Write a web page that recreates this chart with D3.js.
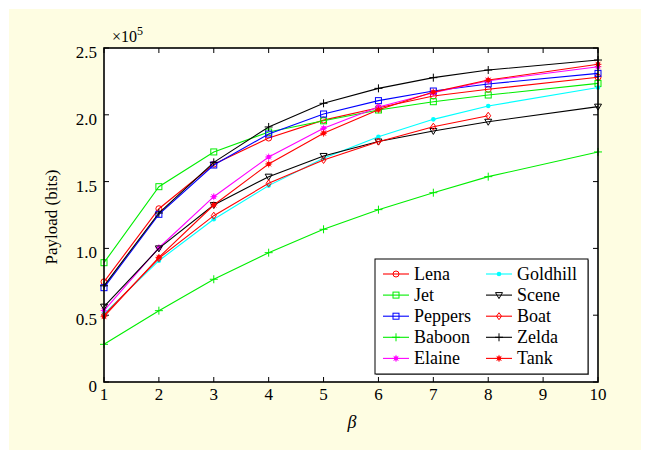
<!DOCTYPE html>
<html>
<head>
<meta charset="utf-8">
<script src="https://cdn.jsdelivr.net/npm/d3@7"></script>
<style>
  body { margin: 0; background: #fff; }
  svg { display: block; }
</style>
</head>
<body>
<svg id="chart" width="645" height="450"></svg>
<script>
// beta values (no measurement at 9)
const betas = [1, 2, 3, 4, 5, 6, 7, 8, 10];

// payload in units of 10^5 bits
const lena     = [0.75, 1.297, 1.63, 1.826, 1.96, 2.053, 2.141, 2.191, 2.281];
const jet      = [0.893, 1.462, 1.722, 1.871, 1.955, 2.036, 2.098, 2.148, 2.235];
const peppers  = [0.706, 1.255, 1.624, 1.856, 2.006, 2.106, 2.178, 2.231, 2.31];
const baboon   = [0.282, 0.534, 0.769, 0.968, 1.143, 1.29, 1.417, 1.537, 1.722];
const elaine   = [0.535, 1.005, 1.387, 1.684, 1.899, 2.058, 2.165, 2.255, 2.36];
const goldhill = [0.51, 0.908, 1.218, 1.47, 1.675, 1.836, 1.966, 2.066, 2.204];
const scene    = [0.564, 1.0, 1.325, 1.537, 1.692, 1.8, 1.879, 1.948, 2.061];
const boat     = [0.50, 0.926, 1.245, 1.487, 1.662, 1.799, 1.911, 1.993];
const zelda    = [0.72, 1.265, 1.644, 1.909, 2.086, 2.198, 2.278, 2.335, 2.41];
const tank     = [0.489, 0.933, 1.325, 1.632, 1.862, 2.038, 2.17, 2.26, 2.378];

const xTicks = [1, 2, 3, 4, 5, 6, 7, 8, 9, 10];
const yTicks = [0, 0.5, 1.0, 1.5, 2.0, 2.5];

const series = [
  { name: "Lena",     values: lena,     color: "#ff0000", marker: "circle" },
  { name: "Jet",      values: jet,      color: "#00ee00", marker: "square" },
  { name: "Peppers",  values: peppers,  color: "#0000ff", marker: "square" },
  { name: "Baboon",   values: baboon,   color: "#00ee00", marker: "plus" },
  { name: "Elaine",   values: elaine,   color: "#ff00ff", marker: "star" },
  { name: "Goldhill", values: goldhill, color: "#00ffff", marker: "dot" },
  { name: "Scene",    values: scene,    color: "#000000", marker: "triangle" },
  { name: "Boat",     values: boat,     color: "#ff0000", marker: "diamond" },
  { name: "Zelda",    values: zelda,    color: "#000000", marker: "plus" },
  { name: "Tank",     values: tank,     color: "#ff0000", marker: "star" }
];

const FONT = "Liberation Serif";
const svg = d3.select("#chart");
const pl = 104, pr = 598, pt = 48, pb = 382;

// cream panel
svg.append("rect").attr("x", 9).attr("y", 9).attr("width", 632).attr("height", 441)
  .attr("fill", "#fefde2");
svg.append("rect").attr("x", pl).attr("y", pt).attr("width", pr - pl).attr("height", pb - pt)
  .attr("fill", "#fff");

const x = d3.scaleLinear().domain([1, 10]).range([pl, pr]);
const y = d3.scaleLinear().domain([0, 2.5]).range([pb, pt]);

// inward ticks on all four sides
const tl = 5;
const g = svg.append("g").attr("stroke", "#000").attr("stroke-width", 1);
xTicks.forEach(t => {
  g.append("line").attr("x1", x(t)).attr("x2", x(t)).attr("y1", pb).attr("y2", pb - tl);
  g.append("line").attr("x1", x(t)).attr("x2", x(t)).attr("y1", pt).attr("y2", pt + tl);
});
yTicks.forEach(t => {
  g.append("line").attr("x1", pl).attr("x2", pl + tl).attr("y1", y(t)).attr("y2", y(t));
  g.append("line").attr("x1", pr).attr("x2", pr - tl).attr("y1", y(t)).attr("y2", y(t));
});

svg.selectAll(".xl").data(xTicks).enter().append("text")
  .attr("x", d => x(d)).attr("y", 400).attr("text-anchor", "middle")
  .attr("font-family", FONT).attr("font-size", 17).text(d => d);
svg.selectAll(".yl").data(yTicks).enter().append("text")
  .attr("x", 97).attr("y", d => y(d) + 10).attr("text-anchor", "end")
  .attr("font-family", FONT).attr("font-size", 17).text(d => d === 0 ? "0" : d.toFixed(1));

// multiplier
const mult = svg.append("text").attr("x", 112).attr("y", 42)
  .attr("font-family", FONT).attr("font-size", 16);
mult.append("tspan").text("×10");
mult.append("tspan").attr("font-size", 12).attr("dy", -7).text("5");

svg.append("text").attr("transform", "translate(57,217) rotate(-90)")
  .attr("text-anchor", "middle").attr("font-family", FONT).attr("font-size", 17).text("Payload (bits)");
svg.append("text").attr("x", 352).attr("y", 428).attr("text-anchor", "middle")
  .attr("font-family", FONT).attr("font-size", 18).attr("font-style", "italic").text("β");

function drawMarker(sel, type, cx, cy, color) {
  const m = sel.append("g").attr("transform", `translate(${cx},${cy})`);
  if (type === "circle") {
    m.append("circle").attr("r", 3).attr("fill", "none").attr("stroke", color);
  } else if (type === "square") {
    m.append("rect").attr("x", -3).attr("y", -3).attr("width", 6).attr("height", 6)
      .attr("fill", "none").attr("stroke", color);
  } else if (type === "plus") {
    m.append("path").attr("d", "M-4,0H4M0,-4V4").attr("stroke", color);
  } else if (type === "star") {
    m.append("circle").attr("r", 2.2).attr("fill", color);
    m.append("path").attr("d", "M-3.5,0H3.5M0,-3.5V3.5M-2.5,-2.5L2.5,2.5M-2.5,2.5L2.5,-2.5")
      .attr("stroke", color).attr("stroke-width", 0.8);
  } else if (type === "dot") {
    m.append("circle").attr("r", 2.3).attr("fill", color);
  } else if (type === "triangle") {
    m.append("path").attr("d", "M-3.5,-2.5L3.5,-2.5L0,3.5Z").attr("fill", "none").attr("stroke", color);
  } else if (type === "diamond") {
    m.append("path").attr("d", "M0,-3.5L2.5,0L0,3.5L-2.5,0Z").attr("fill", "none").attr("stroke", color);
  }
}

const line = d3.line().x(d => x(d[0])).y(d => y(d[1]));
const plot = svg.append("g");
series.forEach(s => {
  const pts = s.values.map((v, i) => [betas[i], v]);
  plot.append("path").datum(pts).attr("d", line)
    .attr("fill", "none").attr("stroke", s.color).attr("stroke-width", 1.1);
  pts.forEach(p => drawMarker(plot, s.marker, x(p[0]), y(p[1]), s.color));
});

// axes box
svg.append("rect").attr("x", pl).attr("y", pt).attr("width", pr - pl).attr("height", pb - pt)
  .attr("fill", "none").attr("stroke", "#000").attr("stroke-width", 1.6);

// legend
const lg = svg.append("g");
lg.append("rect").attr("x", 376).attr("y", 260).attr("width", 213).attr("height", 115)
  .attr("fill", "#888");
lg.append("rect").attr("x", 375).attr("y", 259).attr("width", 213).attr("height", 115)
  .attr("fill", "#fff").attr("stroke", "#000").attr("stroke-width", 1);
series.forEach((s, i) => {
  const col = Math.floor(i / 5), row = i % 5;
  const lx = col === 0 ? 383 : 486;
  const ly = 274 + row * 21.1;
  lg.append("line").attr("x1", lx).attr("x2", lx + 26).attr("y1", ly).attr("y2", ly)
    .attr("stroke", s.color).attr("stroke-width", 1.1);
  drawMarker(lg, s.marker, lx + 13, ly, s.color);
  lg.append("text").attr("x", lx + 31).attr("y", ly + 6)
    .attr("font-family", FONT).attr("font-size", 18).text(s.name);
});
</script>
</body>
</html>
